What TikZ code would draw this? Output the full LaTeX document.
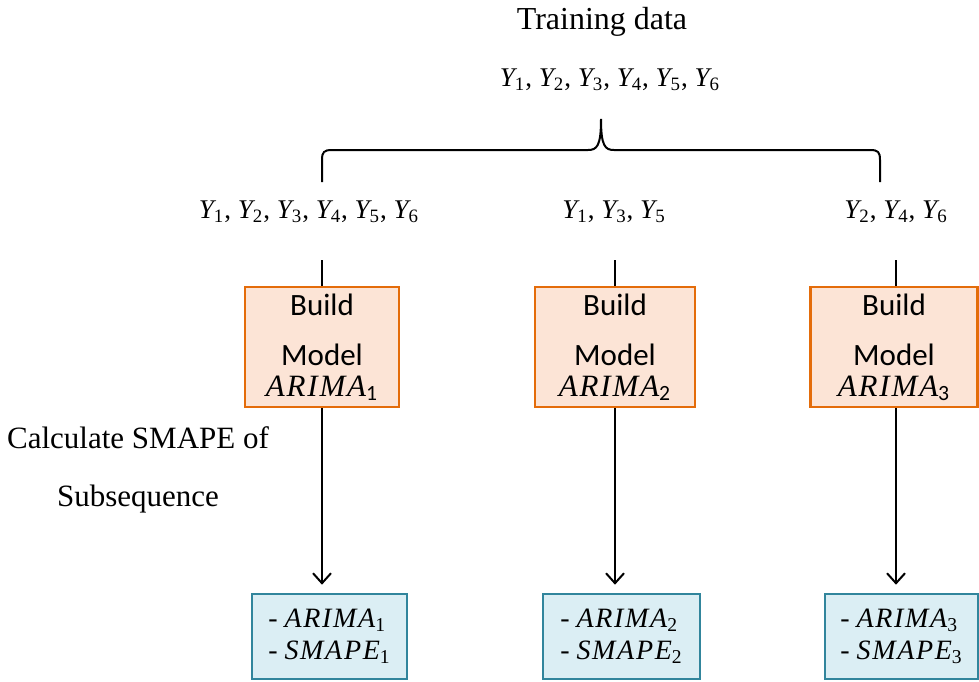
\documentclass[tikz,border=0pt]{standalone}
\usepackage{fontspec}
\setmainfont{Liberation Serif}
\newfontfamily\buildfont{Carlito}
\newfontfamily\varfont[LetterSpace=6]{Liberation Serif}
\usetikzlibrary{positioning}
\usetikzlibrary{arrows.meta}
\definecolor{modelline}{HTML}{E46C0A}
\definecolor{modelfill}{HTML}{FCE4D6}
\definecolor{resultline}{HTML}{31859C}
\definecolor{resultfill}{HTML}{DBEEF4}
\newcommand{\mvar}[2]{{\varfont\itshape #1}\textsubscript{#2}}

\begin{document}
\begin{tikzpicture}[x=0.5pt, y=-0.5pt,
    buildbox/.style={draw=modelline, line width=1.3pt, fill=modelfill, align=center,
      inner sep=0pt, minimum height=60pt, font=\fontsize{15.5}{18}\selectfont\buildfont},
    resultbox/.style={draw=resultline, line width=1.3pt, fill=resultfill, align=left,
      inner sep=0pt, minimum height=42.5pt, font=\fontsize{14}{16}\selectfont},
    datalist/.style={font=\fontsize{13.5}{17}\selectfont},
    link/.style={line width=1pt},
    flow/.style={line width=1pt, -{Straight Barb[length=5pt,width=9pt]}, shorten >=4pt}]
  \useasboundingbox (0,0) rectangle (979,681);

  % training data and its split
  \node[font=\fontsize{16}{19}\selectfont] (train) at (602,22) {Training data};
  \node[datalist] (alldata) at (610,80) {\mvar{Y}{1}, \mvar{Y}{2}, \mvar{Y}{3}, \mvar{Y}{4}, \mvar{Y}{5}, \mvar{Y}{6}};
  \draw[link] (322,182) -- (322,160) .. controls (322,152) and (324,150) .. (332,150)
    -- (588,150) .. controls (597,150) and (601,146) .. (601,119)
    .. controls (601,146) and (605,150) .. (614,150) -- (870,150)
    .. controls (878,150) and (880,152) .. (880,160) -- (880,182);

  \node[datalist] (sub1) at (309,212) {\mvar{Y}{1}, \mvar{Y}{2}, \mvar{Y}{3}, \mvar{Y}{4}, \mvar{Y}{5}, \mvar{Y}{6}};
  \node[datalist] (sub2) at (614,212) {\mvar{Y}{1}, \mvar{Y}{3}, \mvar{Y}{5}};
  \node[datalist] (sub3) at (896,212) {\mvar{Y}{2}, \mvar{Y}{4}, \mvar{Y}{6}};

  % models
  \node[buildbox, minimum width=77pt] (model1) at (322,347) {Build\\[7pt]Model\\[-2.5pt]\mvar{ARIMA}{1}};
  \node[buildbox, minimum width=80pt] (model2) at (615,347) {Build\\[7pt]Model\\[-2.5pt]\mvar{ARIMA}{2}};
  \node[buildbox, minimum width=83.5pt] (model3) at (894,347) {Build\\[7pt]Model\\[-2.5pt]\mvar{ARIMA}{3}};

  \coordinate (in1) at (322,260);
  \coordinate (in2) at (615,260);
  \coordinate (in3) at (896,260);
  \draw[link] (in1) -- (in1 |- model1.north);
  \draw[link] (in2) -- (in2 |- model2.north);
  \draw[link] (in3) -- (in3 |- model3.north);

  \node[font=\fontsize{15.5}{18}\selectfont, align=center] (calc) at (138,470) {Calculate SMAPE of\\[11pt]Subsequence};

  % results
  \node[resultbox, minimum width=77.5pt] (res1) at (329.5,636.5) {- \mvar{ARIMA}{1}\\- \mvar{SMAPE}{1}};
  \node[resultbox, minimum width=78.5pt] (res2) at (621.5,636.5) {- \mvar{ARIMA}{2}\\- \mvar{SMAPE}{2}};
  \node[resultbox, minimum width=76.5pt] (res3) at (901.5,636.5) {- \mvar{ARIMA}{3}\\- \mvar{SMAPE}{3}};

  \draw[flow] (model1.south) -- (model1.south |- res1.north);
  \draw[flow] (in2 |- model2.south) -- (in2 |- res2.north);
  \draw[flow] (in3 |- model3.south) -- (in3 |- res3.north);
\end{tikzpicture}
\end{document}
